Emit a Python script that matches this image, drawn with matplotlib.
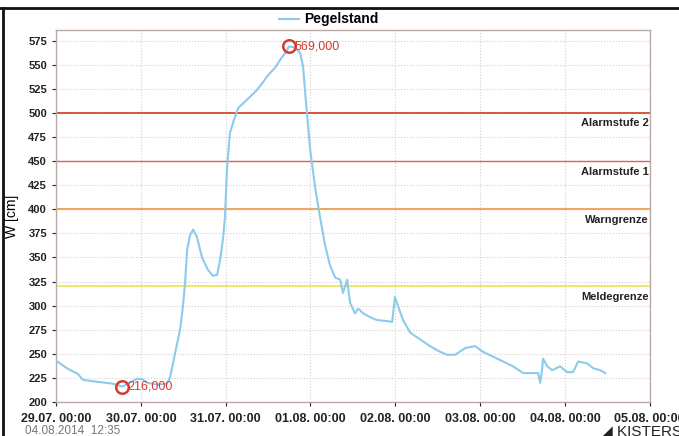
import numpy as np
import pandas as pd
import matplotlib
matplotlib.use('Agg')
import matplotlib.pyplot as plt
import matplotlib.dates as mdates
from matplotlib.lines import Line2D

plt.rcParams['font.family'] = ['Liberation Sans', 'DejaVu Sans']

start = pd.Timestamp('2014-07-29 00:00')
# hours since 29.07. 00:00 and water level in cm
hours = [0, 3.1, 6.2, 7.6, 11.6, 16.1, 18.7, 20.9, 22.9, 24.3,
         25.8, 28.6, 31.4, 32.3, 33.7, 35.1, 35.9, 36.5, 37.1, 37.9,
         38.8, 39.9, 41.3, 43.0, 44.4, 45.6, 46.4, 47.3, 47.8, 48.4,
         49.2, 50.1, 51.5, 54.1, 56.9, 58.6, 59.7, 62.0, 63.4, 64.8,
         65.9, 67.6, 69.1, 69.9, 70.5, 71.0, 71.9, 73.3, 74.7, 76.1,
         77.5, 79.0, 80.4, 81.2, 82.4, 82.6, 83.2, 84.6, 85.5, 86.9,
         88.9, 90.8, 93.7, 95.1, 95.9, 96.8, 98.2, 100.2, 103.0, 105.8,
         108.7, 110.7, 112.9, 115.8, 118.6, 120.8, 123.7, 126.5, 129.3, 132.2,
         135.0, 136.4, 137.0, 137.5, 137.8, 139.0, 140.4, 142.6, 144.6, 146.3,
         147.7, 150.3, 152.0, 154.0, 155.4]
levels = [243, 235, 229, 223, 221, 219, 216, 220, 224, 224,
          220, 218, 219, 226, 251, 275, 299, 323, 358, 373,
          379, 371, 350, 337, 331, 332, 347, 371, 392, 444,
          479, 490, 505, 514, 524, 532, 538, 547, 555, 562,
          569, 568, 562, 548, 521, 500, 462, 423, 392, 363,
          342, 329, 327, 313, 327, 320, 303, 292, 297, 292,
          288, 285, 284, 283, 309, 299, 285, 272, 265, 258,
          252, 249, 249, 256, 258, 252, 247, 242, 237, 230,
          230, 230, 220, 233, 245, 237, 233, 237, 231, 231,
          242, 240, 235, 233, 230]

limits = [500, 450, 400, 320]
limit_names = ['Alarmstufe 2', 'Alarmstufe 1', 'Warngrenze', 'Meldegrenze']
limit_colors = ['#d9553a', '#e0605a', '#f0a860', '#ece870']
limit_widths = [1.4, 1.0, 1.5, 1.5]

times = [start + pd.Timedelta(hours=h) for h in hours]
i_min = int(np.argmin(levels))
i_max = int(np.argmax(levels))

fig = plt.figure(figsize=(6.79, 4.36), dpi=100)
ax = fig.add_axes([0.0825, 0.078, 0.8745, 0.853])

ax.plot(times, levels, color='#8ccbea', lw=1.5, label='Pegelstand', zorder=3)

for v, name, c, w in zip(limits, limit_names, limit_colors, limit_widths):
    ax.axhline(v, color=c, lw=w, zorder=2)
    ax.annotate(name, xy=(1, v), xycoords=('axes fraction', 'data'),
                xytext=(-1, -4), textcoords='offset points', ha='right', va='top',
                fontsize=8, fontweight='bold', color='#222222')

for i in [i_min, i_max]:
    ax.plot(times[i], levels[i], 'o', ms=9, mfc='none', mec='#d83a30', mew=1.8, zorder=4)
    ax.annotate('%d,000' % levels[i], xy=(times[i], levels[i]), xytext=(4, 0),
                textcoords='offset points', va='center', ha='left',
                fontsize=9, color='#d83a30')

ax.set_ylim(200, 586)
ax.set_yticks(np.arange(200, 576, 25))
ax.set_xlim(start, start + pd.Timedelta(days=7))
ax.xaxis.set_major_locator(mdates.DayLocator())
ax.xaxis.set_major_formatter(mdates.DateFormatter('%d.%m. %H:%M'))
ax.tick_params(labelsize=8, colors='#222222', length=3, width=0.8)
ax.tick_params(axis='x', labelsize=9, pad=5)
for lab in ax.get_xticklabels() + ax.get_yticklabels():
    lab.set_fontweight('bold')
ax.set_ylabel('W [cm]', fontsize=10)
ax.yaxis.set_label_coords(-0.062, 0.5)
ax.grid(True, color='#d0d0d0', ls=':', lw=0.8, zorder=0)
for s in ax.spines.values():
    s.set_color('#b8aaa0')
    s.set_linewidth(1.0)

ax.legend(loc='lower center', bbox_to_anchor=(0.46, 0.995), frameon=False,
          prop={'weight': 'bold', 'size': 10}, handlelength=1.4,
          borderaxespad=0, handletextpad=0.4)

fig.text(0.037, 0.004, '04.08.2014  12:35', fontsize=8.5, color='#777777')
fig.text(0.885, -0.006, '\u25e2 KISTERS', fontsize=11, color='#222222', va='bottom')

fig.add_artist(Line2D([0, 1], [0.982, 0.982], transform=fig.transFigure, color='#111111', lw=2))
fig.add_artist(Line2D([0.004, 0.004], [0, 0.982], transform=fig.transFigure, color='#111111', lw=2))

fig.savefig('out.png', dpi=100)
